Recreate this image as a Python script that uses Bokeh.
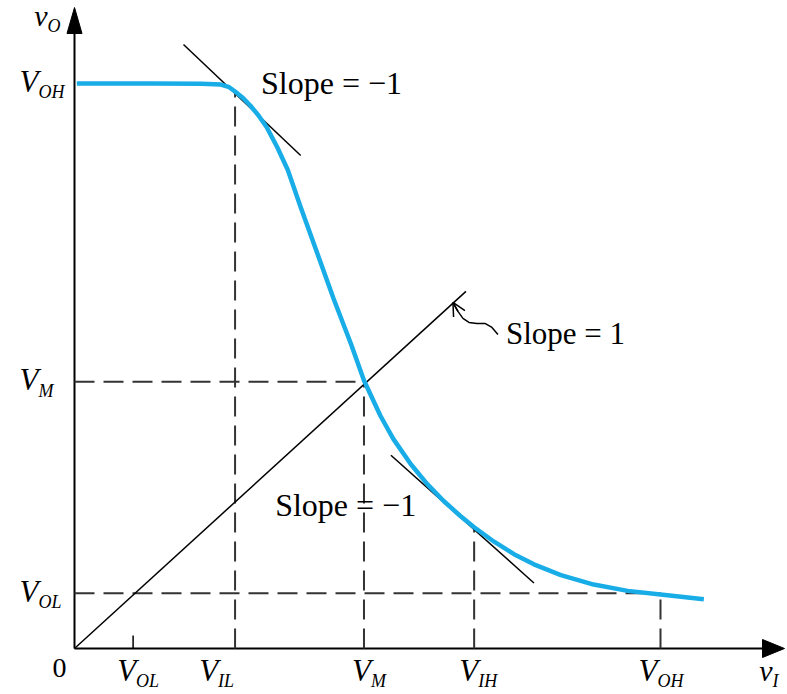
from bokeh.plotting import figure
from bokeh.models import Range1d, Arrow, OpenHead
from bokeh.core.properties import value
from bokeh.embed import file_html
from bokeh.resources import INLINE

# ---------------- data (in volts) ----------------
V_OH = 5.0          # high output level / input point V_OH
V_OL = 0.49         # low output level
V_OL_X = 0.50       # V_OL marked on the input axis
V_IL = 1.37
V_IL_OUT = 4.93     # output at V_IL
V_M_X = 2.47
V_M_Y = 2.36
V_IH = 3.41
V_IH_OUT = 1.07     # output at V_IH

vtc_vi = [0.02, 0.65, 1.08, 1.25, 1.32, 1.37, 1.43, 1.50, 1.57, 1.64, 1.73,
          1.82, 1.93, 2.07, 2.21, 2.36, 2.47, 2.61, 2.72, 2.87, 3.01, 3.15,
          3.29, 3.41, 3.58, 3.75, 3.92, 4.15, 4.43, 4.72, 5.00, 5.37]
vtc_vo = [5.00, 5.00, 4.997, 4.991, 4.967, 4.929, 4.879, 4.805, 4.717, 4.613, 4.436,
          4.235, 3.905, 3.502, 3.097, 2.693, 2.372, 2.060, 1.855, 1.630, 1.455, 1.305,
          1.175, 1.073, 0.945, 0.835, 0.745, 0.650, 0.566, 0.510, 0.478, 0.436]

unity_x = [0.0, 3.34]
unity_y = [0.0, 3.16]
tan1_x = [0.93, 1.93]
tan1_y = [5.345, 4.363]
tan2_x = [2.70, 3.92]
tan2_y = [1.71, 0.58]

x_tick_pos = [V_OL_X, V_IL, V_M_X, V_IH, V_OH]
x_tick_sub = ["OL", "IL", "M", "IH", "OH"]
y_tick_pos = [V_OH, V_M_Y, V_OL]
y_tick_sub = ["OH", "M", "OL"]

# ---------------- layout ----------------
W, H = 787, 694
SX, SY = 117.2, 113.0      # px per volt
OX, OY = 74, 648           # origin in figure px

p = figure(width=W, height=H, output_backend="svg", toolbar_location=None,
           x_range=Range1d(-OX / SX, (W - OX) / SX),
           y_range=Range1d(-(H - OY) / SY, OY / SY),
           x_axis_location=None, y_axis_location=None, min_border=0)
p.grid.visible = False
p.outline_line_color = None
p.background_fill_color = "white"
p.border_fill_color = "white"

def dxp(px):
    return px / SX

def dyp(px):
    return px / SY

SERIF = value("Liberation Serif")
DASH = dict(line_color="#333333", line_width=2, line_dash="20 9")

# axes
x_tip = (784 - OX) / SX
y_tip = (OY - 7) / SY
p.line([0, x_tip - dxp(10)], [0, 0], line_color="black", line_width=2)
p.line([0, 0], [0, y_tip - dyp(10)], line_color="black", line_width=2)
p.patch([x_tip, x_tip - dxp(22), x_tip - dxp(22)], [0, dyp(9), -dyp(9)],
        fill_color="black", line_color="black")
p.patch([0, -dxp(7.5), dxp(7.5)], [y_tip, y_tip - dyp(26), y_tip - dyp(26)],
        fill_color="black", line_color="black")

# dashed guide lines
p.line([V_IL, V_IL], [0, V_IL_OUT], **DASH)
p.line([0, V_M_X], [V_M_Y, V_M_Y], **DASH)
p.line([V_M_X, V_M_X], [0, V_M_Y], **DASH)
p.line([V_IH, V_IH], [0, V_IH_OUT], **DASH)
p.line([0, V_OH], [V_OL, V_OL], **DASH)
p.line([V_OH, V_OH], [0, V_OL], **DASH)
# V_OL tick
p.line([V_OL_X, V_OL_X], [0, dyp(13)], line_color="black", line_width=1.5)

# straight lines
p.line(unity_x, unity_y, line_color="black", line_width=1.5)
p.line(tan1_x, tan1_y, line_color="black", line_width=1.5)
p.line(tan2_x, tan2_y, line_color="black", line_width=1.5)

# transfer curve
p.line(vtc_vi, vtc_vo, line_color="#19ade8", line_width=4.5, line_join="round")

# squiggly pointer to the unity line
ax, ay = unity_x[1], unity_y[1]
sq = [(32, 43), (26, 36), (19, 32), (11, 32), (3, 31), (-3, 27), (-8, 20), (-12, 13)]
sqx = [ax + dxp(a) for a, b in sq]
sqy = [ay - dyp(b) for a, b in sq]
p.line(sqx, sqy, line_color="black", line_width=1.5)
p.add_layout(Arrow(end=OpenHead(size=13, line_width=1.5, line_color="black"),
                   x_start=sqx[-2], y_start=sqy[-2],
                   x_end=ax - dxp(13), y_end=ay - dyp(11),
                   line_color="black", line_width=1.5))

def txt(x, y, s, dx, dy, size, italic=True, align="left"):
    # dy = wanted baseline offset (px, downwards); correct for renderer shift
    p.text(x=[x], y=[y], text=[s], x_offset=dx, y_offset=dy - 0.39 * size,
           text_font=SERIF, text_font_style="italic" if italic else "normal",
           text_font_size=value(f"{size}px"), text_align=align,
           text_baseline="alphabetic", text_color="black")

# bottom tick labels
junction = [3, -17, 7, 4, -3]
for xv, sub, j in zip(x_tick_pos, x_tick_sub, junction):
    txt(xv, 0, "V", j, 34, 31, align="right")
    txt(xv, 0, sub, j, 40, 18)
txt(0, 0, "0", -15, 30, 28, italic=False, align="center")
txt(x_tip, 0, "v", -12, 34, 30, align="right")
txt(x_tip, 0, "I", -12, 40, 18)

# left tick labels
for yv, sub in zip(y_tick_pos, y_tick_sub):
    txt(0, yv, "V", -36, 10, 31, align="right")
    txt(0, yv, sub, -36, 16, 18)
txt(0, y_tip, "v", -27, 20, 30, align="right")
txt(0, y_tip, "O", -27, 26, 18)

# slope annotations
txt(V_IL, V_IL_OUT, "Slope = \u22121", 26, 4, 32, italic=False)
txt(unity_x[1], unity_y[1], "Slope = 1", 40, 54, 31, italic=False)
txt(V_IH, V_IH_OUT, "Slope = \u22121", -199, -10, 32, italic=False)

open("out.html", "w").write(file_html(p, INLINE))
